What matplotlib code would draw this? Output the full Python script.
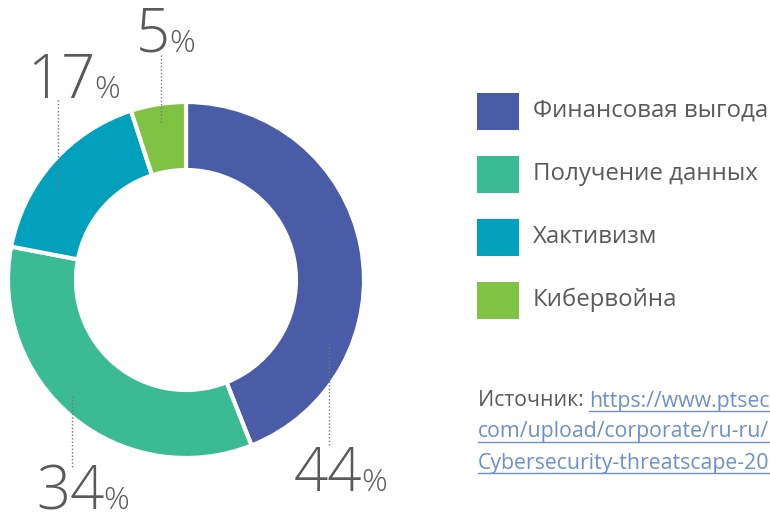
import matplotlib.pyplot as plt
from matplotlib.patches import Rectangle
from matplotlib.lines import Line2D

labels = ['Финансовая выгода', 'Получение данных', 'Хактивизм', 'Кибервойна']
values = [44, 34, 17, 5]
colors = ['#4a5ba8', '#3bbb93', '#01a0bd', '#7fc244']
link_lines = ['https://www.ptsec', 'com/upload/corporate/ru-ru/', 'Cybersecurity-threatscape-20']

W, H = 770, 512
plt.rcParams['font.family'] = ['Open Sans', 'DejaVu Sans']
fig = plt.figure(figsize=(W / 100, H / 100), dpi=100)

def fx(px):
    return px / W

def fy(py):
    return 1 - py / H

# donut
cx, cy, r = 186, 280, 178
ax = fig.add_axes([fx(cx - r), fy(cy + r), 2 * r / W, 2 * r / H])
ax.pie(values, colors=colors, startangle=90, counterclock=False,
       radius=1, wedgeprops=dict(width=68 / 178, edgecolor='white', linewidth=3))
ax.set_xlim(-1, 1)
ax.set_ylim(-1, 1)
ax.axis('off')

# percent labels: (number left edge px, baseline px, leader x, leader y0, y1)
label_pos = [(294, 491, 329, 343, 445),
             (36, 509, 72, 396, 467),
             (27, 98, 58, 100, 190),
             (136, 52, 161, 55, 124)]
grey = '#5a5a5a'
fig.canvas.draw()
rend = fig.canvas.get_renderer()
for v, (xl, yb, lx, ly0, ly1) in zip(values, label_pos):
    t = fig.text(fx(xl), fy(yb), str(v), fontsize=43, color=grey, ha='left',
                 va='baseline', fontweight='light')
    tb = t.get_window_extent(rend)
    fig.text((tb.x1 - 1) / W, fy(yb), '%', fontsize=23, color=grey, ha='left',
             va='baseline', fontweight='light')
    fig.add_artist(Line2D([fx(lx), fx(lx)], [fy(ly0), fy(ly1)], color='#777777',
                          lw=1, ls=(0, (1, 1.5))))

# legend
for i, (lab, c) in enumerate(zip(labels, colors)):
    yc = 111 + i * 63
    fig.add_artist(Rectangle((fx(477), fy(yc + 19)), 42 / W, 37 / H,
                             facecolor=c, edgecolor='none'))
    fig.text(fx(533), fy(yc), lab, fontsize=17.3, color=grey, va='center', ha='left')

# source
src = fig.text(fx(478), fy(401), 'Источник: ', fontsize=15.3, color=grey,
               va='center', ha='left')
bb = src.get_window_extent(rend)
link_color = '#6b8fd1'
for i, line in enumerate(link_lines):
    x0 = bb.x1 if i == 0 else fx(478) * W
    t = fig.text(x0 / W, fy(401 + i * 31), line, fontsize=15.3, color=link_color,
                 va='center', ha='left')
    tb = t.get_window_extent(rend)
    yl = (H - (401 + i * 31) - 10) / H
    fig.add_artist(Line2D([tb.x0 / W, tb.x1 / W], [yl, yl], color=link_color, lw=1))

fig.savefig('out.png', dpi=100)
